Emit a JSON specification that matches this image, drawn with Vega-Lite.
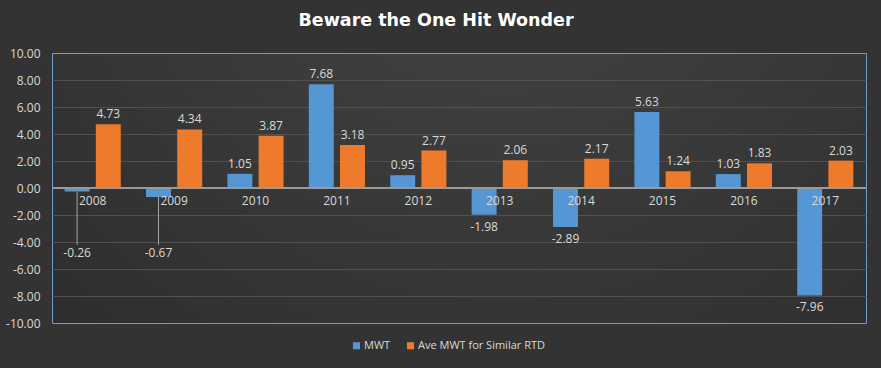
{
  "$schema": "https://vega.github.io/schema/vega-lite/v6.json",
  "width": 814,
  "height": 270,
  "autosize": {"type": "none"},
  "padding": {"left": 52, "top": 53, "right": 15, "bottom": 45},
  "background": "#333333",
  "title": {
    "text": "Beware the One Hit Wonder",
    "color": "#ffffff",
    "font": "DejaVu Sans",
    "fontSize": 17.5,
    "fontWeight": "bold",
    "anchor": "middle",
    "frame": "bounds",
    "offset": 18
  },
  "config": {
    "font": "Open Sans",
    "locale": {"number": {"decimal": ".", "thousands": ",", "grouping": [3], "currency": ["$", ""], "minus": "-"}},
    "view": {
      "stroke": "#6f9ccb",
      "strokeWidth": 1,
      "fill": {
        "gradient": "radial",
        "x1": 0.55, "y1": 0.1, "x2": 0.55, "y2": 0.1, "r1": 0, "r2": 0.9,
        "stops": [{"offset": 0, "color": "#464646"}, {"offset": 1, "color": "#2a2a2a"}]
      }
    },
    "axis": {"labelColor": "#d9d9d9", "labelFontSize": 12}
  },
  "data": {
    "values": [
      {"year": "2008", "series": "MWT", "value": -0.26},
      {"year": "2009", "series": "MWT", "value": -0.67},
      {"year": "2010", "series": "MWT", "value": 1.05},
      {"year": "2011", "series": "MWT", "value": 7.68},
      {"year": "2012", "series": "MWT", "value": 0.95},
      {"year": "2013", "series": "MWT", "value": -1.98},
      {"year": "2014", "series": "MWT", "value": -2.89},
      {"year": "2015", "series": "MWT", "value": 5.63},
      {"year": "2016", "series": "MWT", "value": 1.03},
      {"year": "2017", "series": "MWT", "value": -7.96},
      {"year": "2008", "series": "Ave MWT for Similar RTD", "value": 4.73},
      {"year": "2009", "series": "Ave MWT for Similar RTD", "value": 4.34},
      {"year": "2010", "series": "Ave MWT for Similar RTD", "value": 3.87},
      {"year": "2011", "series": "Ave MWT for Similar RTD", "value": 3.18},
      {"year": "2012", "series": "Ave MWT for Similar RTD", "value": 2.77},
      {"year": "2013", "series": "Ave MWT for Similar RTD", "value": 2.06},
      {"year": "2014", "series": "Ave MWT for Similar RTD", "value": 2.17},
      {"year": "2015", "series": "Ave MWT for Similar RTD", "value": 1.24},
      {"year": "2016", "series": "Ave MWT for Similar RTD", "value": 1.83},
      {"year": "2017", "series": "Ave MWT for Similar RTD", "value": 2.03}
    ]
  },
  "encoding": {
    "x": {
      "field": "year", "type": "nominal", "axis": null,
      "scale": {"paddingInner": 0.31, "paddingOuter": 0.155}
    },
    "y": {
      "type": "quantitative",
      "scale": {"domain": [-10, 10], "nice": false},
      "axis": {
        "title": null, "format": ".2f", "values": [-10, -8, -6, -4, -2, 0, 2, 4, 6, 8, 10],
        "domain": false, "ticks": false, "labelPadding": 12,
        "gridColor": {"condition": {"test": "abs(datum.value) == 10", "value": "transparent"}, "value": "#505050"},
        "gridWidth": 1
      }
    }
  },
  "layer": [
    {
      "mark": {"type": "bar"},
      "encoding": {
        "y": {"field": "value", "type": "quantitative"},
        "xOffset": {"field": "series", "type": "nominal", "sort": ["MWT", "Ave MWT for Similar RTD"], "scale": {"paddingInner": 0.2}},
        "color": {
          "field": "series", "type": "nominal",
          "sort": ["MWT", "Ave MWT for Similar RTD"],
          "scale": {"domain": ["MWT", "Ave MWT for Similar RTD"], "range": ["#5596d4", "#ee7a2b"]},
          "legend": {
            "title": null, "orient": "none", "direction": "horizontal",
            "legendX": 299, "legendY": 287,
            "symbolType": "square", "symbolSize": 50, "symbolStrokeWidth": 0,
            "labelColor": "#d9d9d9", "labelFontSize": 11, "labelOffset": 2,
            "columnPadding": 14, "padding": 0
          }
        }
      }
    },
    {
      "mark": {"type": "rule", "color": "#9a9a9a", "strokeWidth": 1},
      "encoding": {"y": {"datum": 0}, "x": null}
    },
    {
      "mark": {"type": "text", "color": "#d9d9d9", "fontSize": 12, "dy": 13},
      "transform": [{"filter": "datum.series == 'MWT'"}],
      "encoding": {"y": {"datum": 0}, "text": {"field": "year"}}
    },
    {
      "mark": {"type": "text", "color": "#d9d9d9", "fontSize": 12, "dy": -10},
      "transform": [{"filter": "datum.value >= 0"}],
      "encoding": {
        "y": {"field": "value", "type": "quantitative"},
        "xOffset": {"field": "series", "type": "nominal", "sort": ["MWT", "Ave MWT for Similar RTD"], "scale": {"paddingInner": 0.2}},
        "text": {"field": "value", "type": "quantitative", "format": ".2f"}
      }
    },
    {
      "mark": {"type": "text", "color": "#d9d9d9", "fontSize": 12, "dy": 12},
      "transform": [{"filter": "datum.value <= -1"}],
      "encoding": {
        "y": {"field": "value", "type": "quantitative"},
        "xOffset": {"field": "series", "type": "nominal", "sort": ["MWT", "Ave MWT for Similar RTD"], "scale": {"paddingInner": 0.2}},
        "text": {"field": "value", "type": "quantitative", "format": ".2f"}
      }
    },
    {
      "mark": {"type": "rule", "color": "#a6a6a6", "strokeWidth": 1},
      "transform": [{"filter": "datum.value < 0 && datum.value > -1"}],
      "encoding": {
        "y": {"field": "value", "type": "quantitative"},
        "y2": {"datum": -4.2},
        "xOffset": {"field": "series", "type": "nominal", "sort": ["MWT", "Ave MWT for Similar RTD"], "scale": {"paddingInner": 0.2}}
      }
    },
    {
      "mark": {"type": "text", "color": "#d9d9d9", "fontSize": 12},
      "transform": [{"filter": "datum.value < 0 && datum.value > -1"}],
      "encoding": {
        "y": {"datum": -4.85},
        "xOffset": {"field": "series", "type": "nominal", "sort": ["MWT", "Ave MWT for Similar RTD"], "scale": {"paddingInner": 0.2}},
        "text": {"field": "value", "type": "quantitative", "format": ".2f"}
      }
    }
  ]
}
